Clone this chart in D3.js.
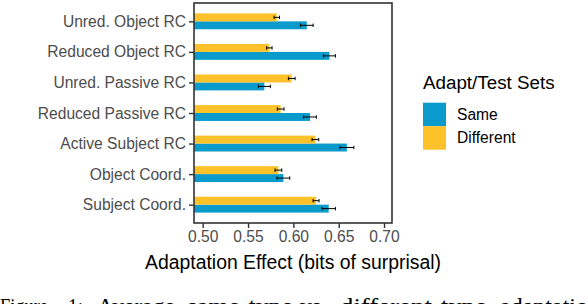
<!DOCTYPE html>
<html>
<head>
<meta charset="utf-8">
<script src="https://cdn.jsdelivr.net/npm/d3@7"></script>
<style>
  body { margin: 0; background: #fff; }
  svg { display: block; font-family: "Liberation Sans", Arial, sans-serif; }
</style>
</head>
<body>
<svg id="chart" width="588" height="304"></svg>
<script>
// categories, top to bottom
const categories = ["Unred. Object RC", "Reduced Object RC", "Unred. Passive RC",
  "Reduced Passive RC", "Active Subject RC", "Object Coord.", "Subject Coord."]
const groups = ["Different", "Same"]   // drawn top -> bottom inside each category
const legendOrder = ["Same", "Different"]
const same = [0.6148, 0.6398, 0.568, 0.6184, 0.659, 0.589, 0.639]
const sameErr = [0.007, 0.0066, 0.0066, 0.007, 0.0077, 0.007, 0.0074]
const different = [0.5817, 0.5735, 0.5982, 0.586, 0.6243, 0.5835, 0.625]
const differentErr = [0.003, 0.003, 0.0037, 0.0037, 0.0037, 0.0037, 0.0033]
const xTicks = [0.50, 0.55, 0.60, 0.65, 0.70]
const colors = {Same: "#0a9bcc", Different: "#fdc12a"}

const rows = []
categories.forEach((c, i) => {
  rows.push({cat: c, grp: "Same", v: same[i], e: sameErr[i]})
  rows.push({cat: c, grp: "Different", v: different[i], e: differentErr[i]})
})

const svg = d3.select("#chart")
const panel = {left: 194, right: 392, top: 3, bottom: 223}

const x = d3.scaleLinear().domain([0.4904, 0.7088]).range([panel.left, panel.right])
const y = d3.scalePoint().domain(categories).range([panel.top, panel.bottom]).padding(0.6)
const step = y.step()
const dodge = d3.scaleBand().domain(groups).range([-0.26 * step, 0.26 * step])

// bars
svg.append("g").selectAll("rect").data(rows).join("rect")
  .attr("x", x.range()[0])
  .attr("y", d => y(d.cat) + dodge(d.grp))
  .attr("width", d => x(d.v) - x.range()[0])
  .attr("height", dodge.bandwidth())
  .attr("fill", d => colors[d.grp])

// error bars
const eb = svg.append("g").attr("stroke", "#000").attr("stroke-width", 1)
rows.forEach(d => {
  const cy = y(d.cat) + dodge(d.grp) + dodge.bandwidth() / 2
  const h = dodge.bandwidth() * 0.22
  eb.append("line").attr("x1", x(d.v - d.e)).attr("x2", x(d.v + d.e)).attr("y1", cy).attr("y2", cy)
  eb.append("line").attr("x1", x(d.v - d.e)).attr("x2", x(d.v - d.e)).attr("y1", cy - h).attr("y2", cy + h)
  eb.append("line").attr("x1", x(d.v + d.e)).attr("x2", x(d.v + d.e)).attr("y1", cy - h).attr("y2", cy + h)
})

// panel border
svg.append("rect")
  .attr("x", panel.left).attr("y", panel.top)
  .attr("width", panel.right - panel.left).attr("height", panel.bottom - panel.top)
  .attr("fill", "none").attr("stroke", "#333").attr("stroke-width", 1.6)

// axes
const xAxis = svg.append("g").attr("transform", `translate(0,${panel.bottom})`)
  .call(d3.axisBottom(x).tickValues(xTicks).tickFormat(d3.format(".2f")).tickSize(5).tickPadding(3))
const yAxis = svg.append("g").attr("transform", `translate(${panel.left},0)`)
  .call(d3.axisLeft(y).tickSize(5).tickPadding(3))
for (const ax of [xAxis, yAxis]) {
  ax.select(".domain").remove()
  ax.selectAll(".tick line").attr("stroke", "#333").attr("stroke-width", 1.4)
  ax.selectAll(".tick text").attr("fill", "#4d4d4d").style("font-size", "15.6px")
    .style("font-family", "'Liberation Sans', Arial, sans-serif")
}

svg.append("text")
  .attr("x", (panel.left + panel.right) / 2).attr("y", 269)
  .attr("text-anchor", "middle").style("font-size", "19.4px").attr("fill", "#000")
  .text("Adaptation Effect (bits of surprisal)")

// legend
const lg = svg.append("g").attr("transform", "translate(423,0)")
lg.append("text").attr("x", 0).attr("y", 89).style("font-size", "18.8px").text("Adapt/Test Sets")
legendOrder.forEach((g, i) => {
  lg.append("rect").attr("x", 0).attr("y", 102.7 + i * 23.5).attr("width", 23).attr("height", 23.5)
    .attr("fill", colors[g])
  lg.append("text").attr("x", 34).attr("y", 114.5 + i * 23.5).attr("dy", "0.35em")
    .style("font-size", "15.6px").text(g)
})

// caption of the source figure, only its top shows at the bottom edge
const caption = [["Figure", 0, 48], ["1:", 68, 15], ["Average", 97, 78], ["same-type", 187, 106],
  ["vs.", 300, 27], ["different-type", 340, 147], ["adaptation", 500, null]]
svg.append("g").selectAll("text").data(caption).join("text")
  .attr("x", d => d[1]).attr("y", 313.5)
  .attr("textLength", d => d[2])
  .attr("lengthAdjust", d => d[2] ? "spacingAndGlyphs" : null)
  .style("font-family", "'Liberation Serif', 'Times New Roman', serif")
  .style("font-size", "24px").attr("fill", "#000")
  .text(d => d[0])
</script>
</body>
</html>
